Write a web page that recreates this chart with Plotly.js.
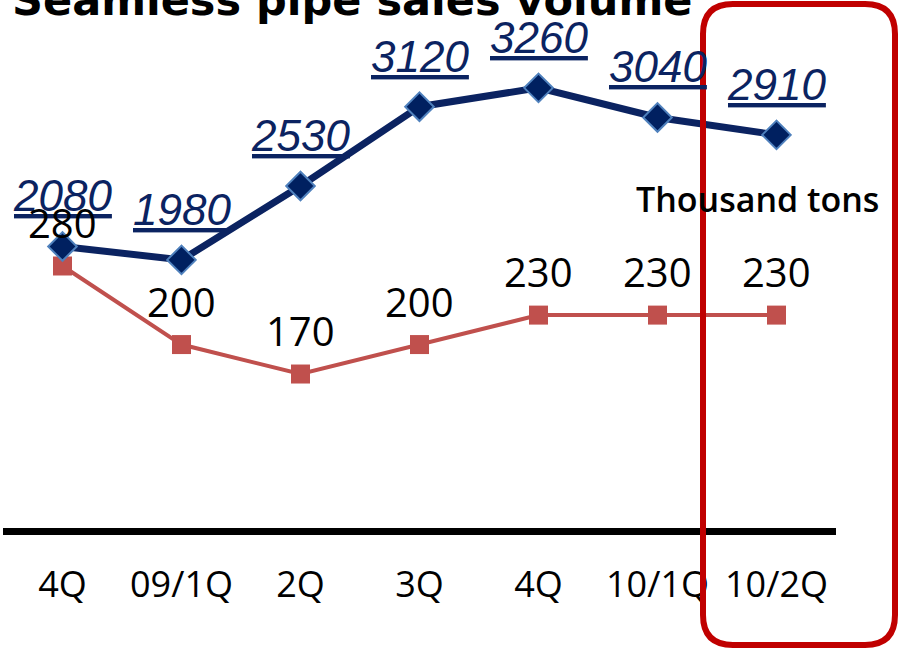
<!DOCTYPE html>
<html><head><meta charset="utf-8">
<script src="https://cdn.plot.ly/plotly-3.0.1.min.js"></script>
<style>html,body{margin:0;padding:0;background:#fff;} #chart{width:899px;height:651px;}</style>
</head><body><div id="chart"></div>
<script>
const tickLabels = ['4Q', '09/1Q', '2Q', '3Q', '4Q', '10/1Q', '10/2Q'];
const blueValues = [2080, 1980, 2530, 3120, 3260, 3040, 2910];
const redValues = [280, 200, 170, 200, 230, 230, 230];
const unitLabel = 'Thousand tons';
const titleText = 'Seamless pipe sales volume';

const W = 899, H = 651;
const M = {l: 3, r: 63, t: 20, b: 123};
const PW = W - M.l - M.r, PH = H - M.t - M.b;
const px = x => (x - M.l) / PW;
const py = y => (H - M.b - y) / PH;
const xs = tickLabels.map((_, i) => i);

const navy = '#0b2361';
const red = '#c0504d';

const traces = [
  {x: xs, y: redValues, yaxis: 'y', type: 'scatter', mode: 'lines+markers',
   line: {color: red, width: 4}, marker: {symbol: 'square', size: 19, color: red}, hoverinfo: 'skip'},
  {x: xs, y: blueValues, yaxis: 'y2', type: 'scatter', mode: 'lines+markers',
   line: {color: navy, width: 7}, marker: {symbol: 'diamond', size: 22, color: '#002060', line: {color: '#4f81bd', width: 2}}, hoverinfo: 'skip'}
];

const annotations = [];
blueValues.forEach((v, i) => annotations.push({
  x: i, y: v, xref: 'x', yref: 'y2', text: String(v), showarrow: false,
  xanchor: 'center', yanchor: 'bottom', yshift: 24,
  font: {family: 'Liberation Sans', size: 44, color: navy, style: 'italic', lineposition: 'under'}
}));
redValues.forEach((v, i) => annotations.push({
  x: i, y: v, xref: 'x', yref: 'y', text: String(v), showarrow: false,
  xanchor: 'center', yanchor: 'bottom', yshift: 14,
  font: {family: 'Open Sans', size: 40, color: '#000', weight: 500}
}));
annotations.push({
  x: px(757), y: py(199), xref: 'paper', yref: 'paper', text: unitLabel, showarrow: false,
  xanchor: 'center', yanchor: 'middle', font: {family: 'Open Sans', size: 34, color: '#000', weight: 600}
});
annotations.push({
  x: px(10), y: py(27), xref: 'paper', yref: 'paper', text: '<b>' + titleText + '</b>', showarrow: false,
  xanchor: 'left', yanchor: 'bottom', font: {family: 'DejaVu Sans', size: 43, color: '#000'}
});

const L = 703, R = 895, T = 4, B = 645, rr = 30;
const P = (x, y) => px(x).toFixed(5) + ',' + py(y).toFixed(5);
const rectPath = 'M' + P(L + rr, T) + ' L' + P(R - rr, T) + ' Q' + P(R, T) + ' ' + P(R, T + rr) +
  ' L' + P(R, B - rr) + ' Q' + P(R, B) + ' ' + P(R - rr, B) +
  ' L' + P(L + rr, B) + ' Q' + P(L, B) + ' ' + P(L, B - rr) +
  ' L' + P(L, T + rr) + ' Q' + P(L, T) + ' ' + P(L + rr, T) + ' Z';

const layout = {
  width: W, height: H, margin: M, showlegend: false,
  paper_bgcolor: '#fff', plot_bgcolor: '#fff',
  xaxis: {range: [-0.5, 6.5], tickvals: xs, ticktext: tickLabels, showline: true, linewidth: 7, linecolor: '#000',
          showgrid: false, zeroline: false, ticks: '', ticklabelstandoff: 19,
          tickfont: {family: 'Open Sans', size: 36, color: '#000', weight: 500}, fixedrange: true},
  yaxis: {range: [13.2, 530.5], visible: false, showgrid: false, zeroline: false, fixedrange: true},
  yaxis2: {range: [-14.9, 3765], overlaying: 'y', visible: false, showgrid: false, zeroline: false, fixedrange: true},
  annotations: annotations,
  shapes: [{type: 'path', xref: 'paper', yref: 'paper', path: rectPath, layer: 'above',
            line: {color: '#c00000', width: 6}, fillcolor: 'rgba(0,0,0,0)'}]
};

Plotly.newPlot('chart', traces, layout, {displayModeBar: false, staticPlot: true});
</script>
</body></html>
